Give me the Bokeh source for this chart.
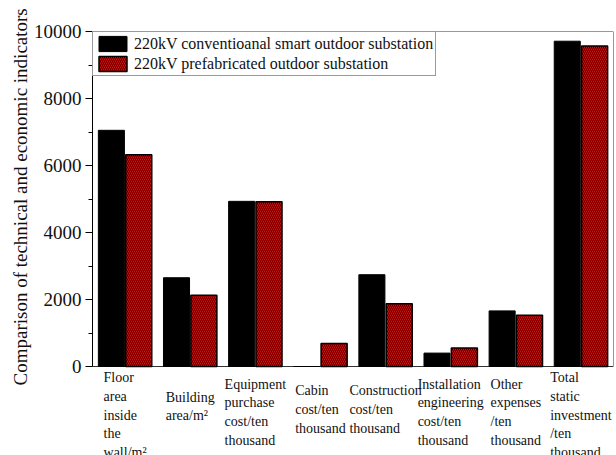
from bokeh.plotting import figure
from bokeh.models import Range1d, SingleIntervalTicker, Legend, LegendItem, Title
from bokeh.core.properties import value
from bokeh.embed import file_html
from bokeh.resources import INLINE

# Indicator groups along the x axis
groups = [1, 2, 3, 4, 5, 6, 7, 8]
categories = [
    "Floor\narea\ninside\nthe\nwall/m\u00b2",
    "Building\narea/m\u00b2",
    "Equipment\npurchase\ncost/ten\nthousand",
    "Cabin\ncost/ten\nthousand",
    "Construction\ncost/ten\nthousand",
    "Installation\nengineering\ncost/ten\nthousand",
    "Other\nexpenses\n/ten\nthousand",
    "Total\nstatic\ninvestment\n/ten\nthousand",
]
conventional = [7050, 2650, 4930, 0, 2740, 400, 1660, 9710]
prefabricated = [6320, 2130, 4920, 690, 1870, 550, 1530, 9570]
series_names = [
    "220kV conventioanal smart outdoor substation",
    "220kV prefabricated outdoor substation",
]
y_title = "Comparison of technical and economic indicators"

SERIF = "Liberation Serif"
W, H = 616, 455
LEFT, RIGHT, TOP = 92, 3, 31
PLOT_H = 335          # pixel height of the 0..Y_MAX value area
LABEL_H = H - TOP - PLOT_H  # strip below the bars for category names
X0, X1 = 0.5, 8.5
Y_MAX = 10000
Y_MIN = -Y_MAX * LABEL_H / PLOT_H
px = Y_MAX / PLOT_H   # data units per pixel vertically

p = figure(
    width=W, height=H,
    x_range=Range1d(X0, X1), y_range=Range1d(Y_MIN, Y_MAX),
    output_backend="svg", toolbar_location=None,
    min_border_left=LEFT, min_border_right=RIGHT,
    min_border_top=TOP, min_border_bottom=0,
)
p.grid.visible = False
p.xaxis.visible = False
p.outline_line_color = None
p.border_fill_color = "white"

# Box around the value area
p.quad(left=[X0], right=[X1], bottom=[0], top=[Y_MAX],
       fill_color=None, line_color="#333333", line_width=1)

# Left axis, limited to the value area
ax = p.yaxis[0]
ax.bounds = (0, Y_MAX)
ax.ticker = SingleIntervalTicker(interval=2000, num_minor_ticks=2)
ax.axis_line_color = "black"
ax.major_tick_line_color = "black"
ax.minor_tick_line_color = "black"
ax.major_tick_out = 7
ax.major_tick_in = 0
ax.minor_tick_out = 4
ax.minor_tick_in = 0
ax.major_label_standoff = 4
ax.major_label_text_font = SERIF
ax.major_label_text_font_size = "19px"
ax.major_label_text_color = "#111111"

# Vertical axis title, centred on the value area
p.add_layout(Title(
    text=y_title, align="left", offset=LABEL_H - 19, standoff=0,
    text_font=SERIF, text_font_size="19px", text_font_style="normal",
    text_color="#111111",
), "left")

# Grouped bars
offset = 0.21
bar_w = 0.4
r_conv = p.vbar(
    x=[g - offset for g in groups], top=conventional, width=bar_w,
    fill_color="black", line_color="black", line_width=1,
)
r_pre = p.vbar(
    x=[g + offset for g in groups], top=prefabricated, width=bar_w,
    fill_color="#ff0000", line_color="black", line_width=1.5,
    hatch_pattern="\\", hatch_color="black", hatch_scale=4, hatch_weight=0.8,
)

legend = Legend(
    items=[
        LegendItem(label=series_names[0], renderers=[r_conv]),
        LegendItem(label=series_names[1], renderers=[r_pre]),
    ],
    location="top_left", margin=0, padding=2, spacing=1,
    glyph_width=35, glyph_height=19, label_height=19, label_standoff=4,
    label_text_font=SERIF, label_text_font_size="16px",
    label_text_color="#111111",
    border_line_color="#333333", border_line_width=1,
    background_fill_color="white", background_fill_alpha=1,
)
p.add_layout(legend)

# Multi-line category names below each group
line_px = 17.5
n_lines = [t.count("\n") + 1 for t in categories]
tops = [-(36 - 0.37 * n * line_px) * px for n in n_lines]
p.text(
    x=groups, y=tops, text=categories,
    anchor="top_center", text_align="left",
    text_font=value(SERIF), text_font_size="14px", text_line_height=1.25,
    text_color="#111111",
)

open("out.html", "w").write(file_html(p, INLINE))
